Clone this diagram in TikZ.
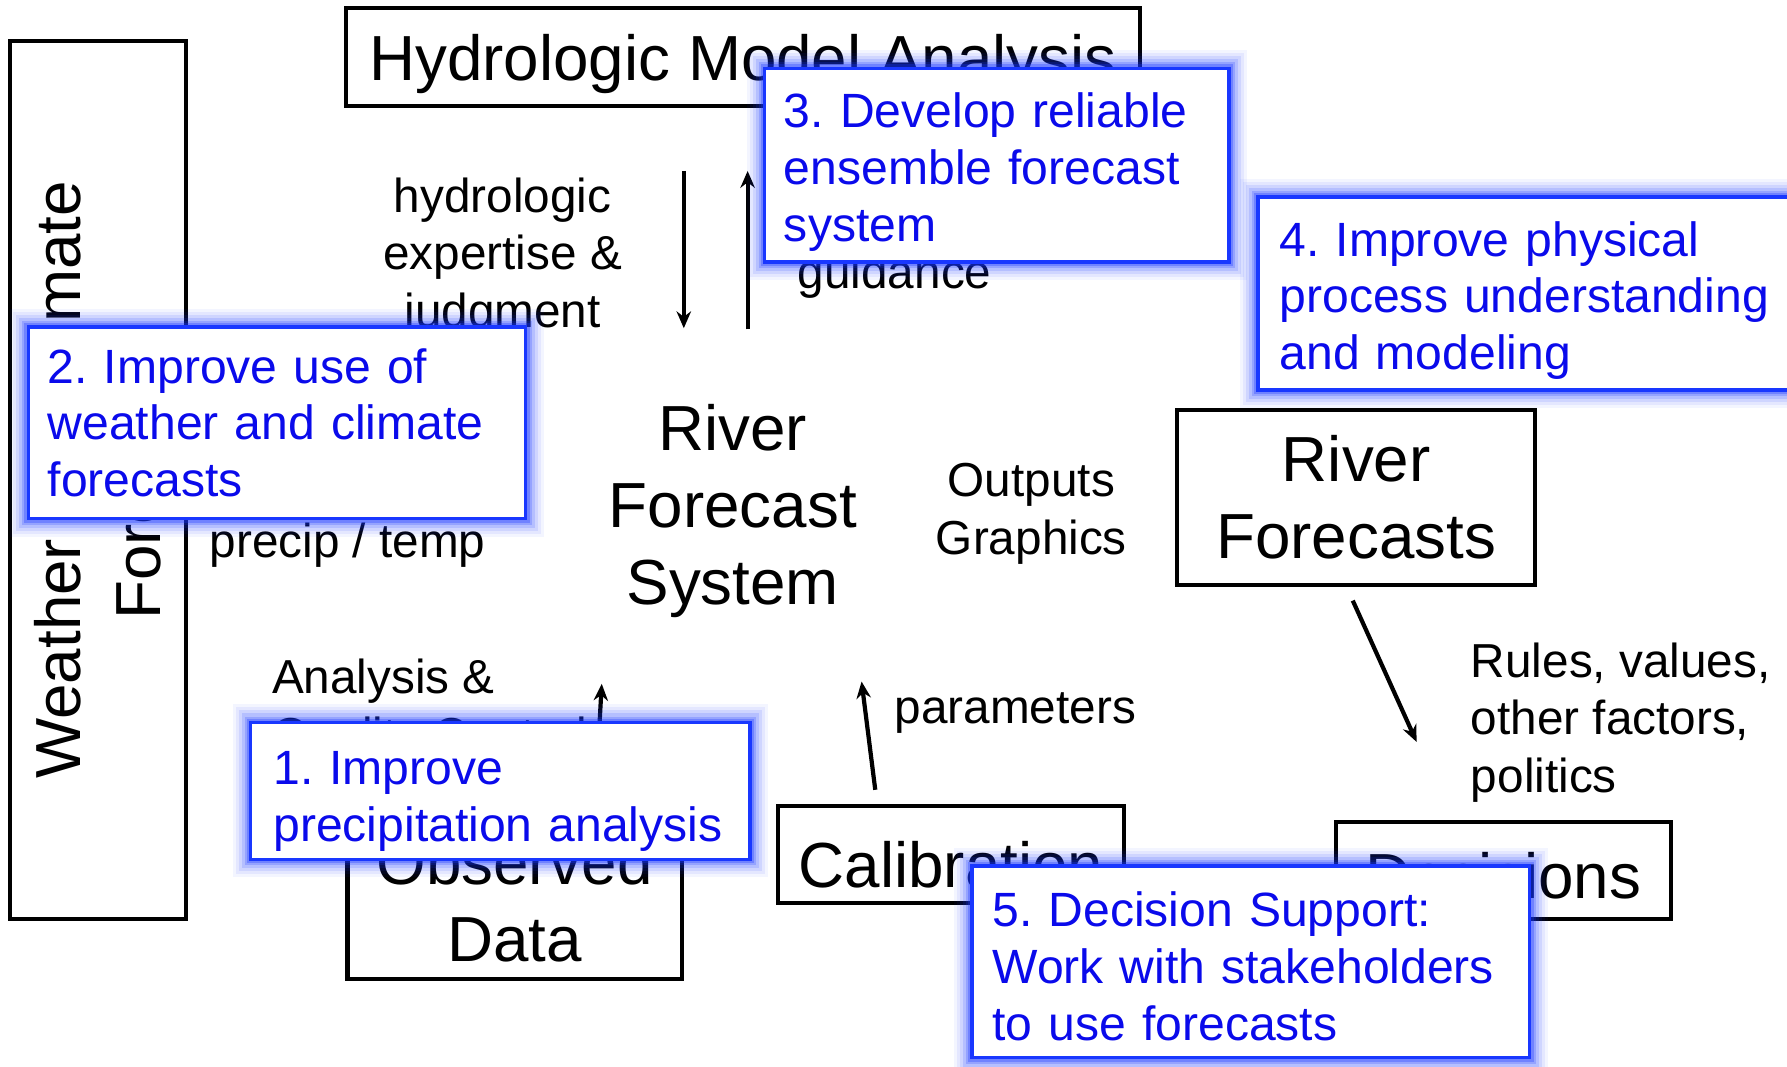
\documentclass[tikz,border=0pt]{standalone}
\usepackage{fontspec}
\setmainfont{Liberation Sans}
\usetikzlibrary{arrows.meta}
\frenchspacing

\definecolor{goalblue}{RGB}{25,55,255}
\definecolor{goaltext}{RGB}{10,10,235}
\newcommand\boxfont{\fontsize{15.9}{19.2}\selectfont}
\newcommand\wxfont{\fontsize{15.9}{19.9}\selectfont}
\newcommand\lblfont{\fontsize{11.9}{14.4}\selectfont}
\newcommand\goalfont{\fontsize{12}{14.2}\selectfont}
\newcommand\topgap[1]{\rule{0pt}{#1}}

\tikzset{
  box/.style={draw, line width=1pt, inner sep=0pt, align=center, font=\boxfont},
  lbl/.style={inner sep=0pt, align=center, font=\lblfont},
  flow/.style={->, line width=1.05pt},
  goal/.style={
    preaction={draw=goalblue, line width=9pt, opacity=0.05},
    preaction={draw=goalblue, line width=7.5pt, opacity=0.07},
    preaction={draw=goalblue, line width=6pt, opacity=0.1},
    preaction={draw=goalblue, line width=4.5pt, opacity=0.14},
    preaction={draw=goalblue, line width=3pt, opacity=0.2},
    preaction={draw=goalblue, line width=2pt, opacity=0.3},
    draw=goalblue, line width=0.9pt, fill=white, text=goaltext,
    font=\goalfont, align=left, inner ysep=0pt}
}

\begin{document}
\begin{tikzpicture}[x=0.01cm, y=-0.01cm, >={Stealth[length=4.2pt,width=3.6pt]}]
\useasboundingbox (0,0) rectangle (1568,936);

\node[box, minimum width=6.96cm, minimum height=0.86cm, text depth=0pt] (hma) at (652,50) {Hydrologic Model Analysis};
\node[box, rotate=90, minimum width=7.70cm, minimum height=1.54cm, font=\wxfont] (wcf) at (86,421) {Weather and Climate\\Forecasts};
\node[box, minimum width=2.93cm, minimum height=1.51cm] (obs) at (451.5,783.5) {\topgap{15pt}Observed\\Data};
\node[box, minimum width=3.03cm, minimum height=0.85cm, text height=16.6pt] (cal) at (834.5,749.5) {Calibration};
\node[box, minimum width=3.14cm, minimum height=1.53cm] (rf) at (1190,436.5) {River\\Forecasts};
\node[box, minimum width=2.94cm, minimum height=0.85cm, text height=14.3pt] (dec) at (1319,763.5) {Decisions};
\node[font=\boxfont, align=center] (rfs) at (643,448) {River\\Forecast\\System};

\node[lbl] (hyd) at (441,226) {hydrologic\\expertise \&\\judgment};
\node[lbl] (gui) at (785,242) {guidance};
\node[lbl] (pt) at (305,478) {precip / temp};
\node[lbl] (og) at (905,451) {Outputs\\Graphics};
\node[lbl, align=left, anchor=west] (aqc) at (238,623) {Analysis \&\\Quality Control};
\node[lbl] (par) at (891,626) {parameters};
\node[lbl, align=left, anchor=west] (rules) at (1290,634) {Rules, values,\\other factors,\\politics};

\coordinate (dnA) at (600,150);
\coordinate (dnB) at (600,288);
\coordinate (upA) at (656,289);
\coordinate (upB) at (656,150);
\coordinate (aqcA) at (522,708);
\coordinate (aqcB) at (528,600);
\coordinate (parA) at (768,693);
\coordinate (parB) at (756,598);
\coordinate (decA) at (1187,527);
\coordinate (decB) at (1243,651);

\draw[flow] (dnA) -- (dnB);
\draw[flow] (upA) -- (upB);
\draw[flow] (aqcA) -- (aqcB);
\draw[flow] (parA) -- (parB);
\draw[flow] (decA) -- (decB);

\node[goal, text width=4.02cm, inner xsep=0.17cm, minimum height=1.68cm] (g2) at (243,371) {2. Improve use of\\weather and climate\\forecasts};
\node[goal, text width=3.73cm, inner xsep=0.17cm, minimum height=1.70cm] (g3) at (874.5,145) {\topgap{12.2pt}3. Develop reliable\\ensemble forecast\\system};
\node[goal, text width=4.48cm, inner xsep=0.19cm, minimum height=1.69cm] (g4) at (1347,257.5) {\topgap{12.2pt}4. Improve physical\\process understanding\\and modeling};
\node[goal, text width=3.98cm, inner xsep=0.20cm, minimum height=1.20cm] (g1) at (439,694) {\topgap{13.4pt}1. Improve\\precipitation analysis};
\node[goal, text width=4.53cm, inner xsep=0.18cm, minimum height=1.68cm] (g5) at (1097.5,844) {\topgap{10.8pt}5. Decision Support:\\Work with stakeholders\\to use forecasts};
\end{tikzpicture}
\end{document}
